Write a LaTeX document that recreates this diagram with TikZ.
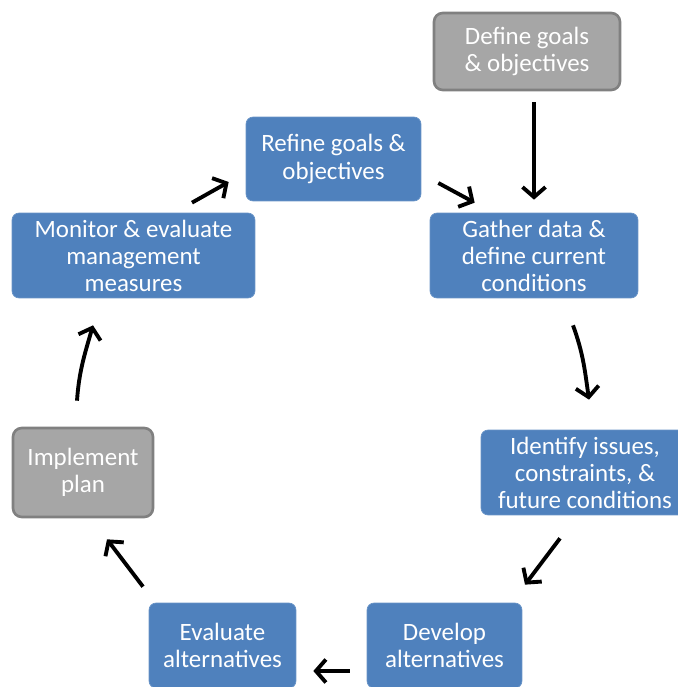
\documentclass[tikz,border=0pt]{standalone}
\usepackage{fontspec}
\setmainfont{Carlito}
\usepackage{tikz}
\usetikzlibrary{arrows.meta,positioning,calc}
\usepackage{xcolor}
\definecolor{StepBlue}{RGB}{79,129,189}
\definecolor{StepGray}{RGB}{166,166,166}
\definecolor{EdgeGray}{RGB}{128,128,128}

\begin{document}
\begin{tikzpicture}[x=0.02cm,y=0.02cm,
  blk/.style={draw=StepBlue!85!white,fill=StepBlue,rounded corners=4pt,text=white,
              align=center,inner sep=0pt,font=\fontsize{14.2}{15.4}\selectfont},
  gblk/.style={draw=EdgeGray,line width=1.5pt,fill=StepGray,rounded corners=5pt,text=white,
               align=center,inner sep=0pt,font=\fontsize{14.2}{15.4}\selectfont},
  arr/.style={-{Straight Barb[length=2mm,width=4.6mm]},line width=2.2pt,black},
]
\useasboundingbox (0,0) rectangle (678,687);
\node[gblk,minimum width=3.72cm,minimum height=1.54cm] (def) at (527,635.5) {Define goals\\\& objectives};
\node[blk,minimum width=3.5cm,minimum height=1.68cm] (ref) at (333.5,528) {Refine goals \&\\objectives};
\node[blk,minimum width=4.16cm,minimum height=1.7cm] (gat) at (534,431.5) {Gather data \&\\define current\\conditions};
\node[blk,minimum width=4.86cm,minimum height=1.7cm] (mon) at (133.5,431.5) {Monitor \& evaluate\\management\\measures};
\node[blk,minimum width=4.16cm,minimum height=1.7cm] (ide) at (585,214.5) {Identify issues,\\constraints, \&\\future conditions};
\node[gblk,minimum width=2.8cm,minimum height=1.78cm] (imp) at (83,214.5) {Implement\\plan};
\node[blk,minimum width=2.94cm,minimum height=1.7cm] (eva) at (222.5,41.5) {Evaluate\\alternatives};
\node[blk,minimum width=3.1cm,minimum height=1.7cm] (dev) at (444.5,41.5) {Develop\\alternatives};
% cycle arrows
\draw[arr,shorten <=0.22cm,shorten >=0.26cm] (def.south -| gat.north) -- (gat.north);
\draw[arr] ([shift={(17,-24)}]ref.east) -- ([shift={(45,10)}]gat.north west);
\draw[arr] ([shift={(39,-27)}]gat.south) to[out=-70,in=98] ([shift={(4,30)}]ide.north);
\draw[arr] ([shift={(-25,-23)}]ide.south) -- ([shift={(80.5,18)}]dev.north);
\draw[arr] ([shift={(-17,-25.5)}]dev.west) -- ([shift={(17,-25.5)}]eva.east);
\draw[arr] ([shift={(-79.5,16)}]eva.north) -- ([shift={(24,-21)}]imp.south);
\draw[arr] ([shift={(-6,26)}]imp.north) to[out=86,in=-106] ([shift={(-40.5,-27)}]mon.south);
\draw[arr] ([shift={(58.5,10)}]mon.north) -- ([shift={(-17,-23)}]ref.west);
\end{tikzpicture}
\end{document}
